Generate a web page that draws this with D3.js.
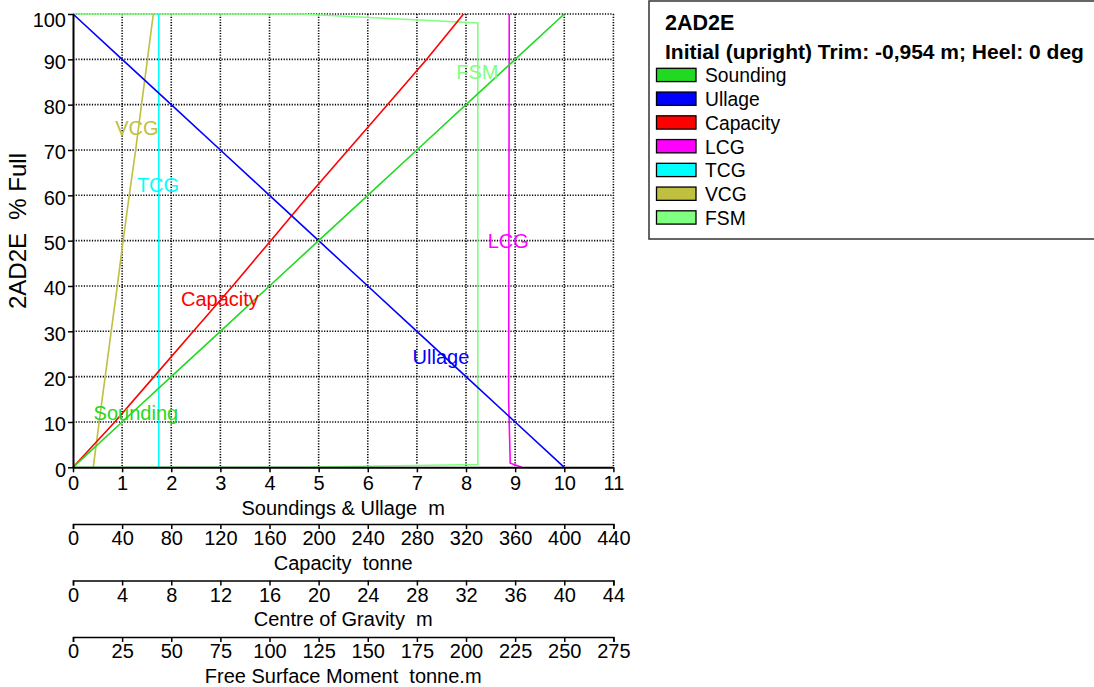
<!DOCTYPE html>
<html>
<head>
<meta charset="utf-8">
<script src="https://cdn.jsdelivr.net/npm/d3@7"></script>
<style>
  html, body { margin: 0; padding: 0; background: #fff; }
  svg { display: block; font-family: Arial, "Liberation Sans", sans-serif; }
  svg text { white-space: pre; }
</style>
</head>
<body>
<svg id="chart" width="1094" height="687"></svg>
<script>
// ---------------- DATA ----------------
const tankName = "2AD2E";
const subtitle = "Initial (upright) Trim: -0,954 m; Heel: 0 deg";
const seriesNames = ["Sounding", "Ullage", "Capacity", "LCG", "TCG", "VCG", "FSM"];
const seriesColors = ["#22d922", "#0000ff", "#ff0000", "#ff00ff", "#00ffff", "#bfbf40", "#80ff80"];

const pctFull = [0, 10, 20, 30, 40, 50, 60, 70, 80, 90, 100];
const soundingM = [0, 1, 2, 3, 4, 5, 6, 7, 8, 9, 10];
const ullageM = [10, 9, 8, 7, 6, 5, 4, 3, 2, 1, 0];
const capacityT = [0, 34, 66, 98, 130, 161, 192, 224, 256, 288, 318];
const vcgM = [1.65, 2.13, 2.62, 3.11, 3.61, 4.08, 4.58, 5.10, 5.58, 6.06, 6.54];

const tcgPct = [0, 100];
const tcgM = [6.98, 6.98];

const lcgPct = [0, 0.9, 15, 100];
const lcgM = [36.55, 35.6, 35.47, 35.52];

const fsmPct = [0, 0, 0.6, 98, 100, 100];
const fsmTm = [0, 115.5, 206, 206, 115.5, 0];

const yTicks = [0, 10, 20, 30, 40, 50, 60, 70, 80, 90, 100];
const soundTicks = [0, 1, 2, 3, 4, 5, 6, 7, 8, 9, 10, 11];
const capTicks = [0, 40, 80, 120, 160, 200, 240, 280, 320, 360, 400, 440];
const cogTicks = [0, 4, 8, 12, 16, 20, 24, 28, 32, 36, 40, 44];
const fsmTicks = [0, 25, 50, 75, 100, 125, 150, 175, 200, 225, 250, 275];

const yTitle = "2AD2E  % Full";
const axisTitles = ["Soundings & Ullage  m", "Capacity  tonne", "Centre of Gravity  m", "Free Surface Moment  tonne.m"];

// ---------------- LAYOUT ----------------
const L = 73, R = 613.4, T = 14, B = 467.3;
const FONT = "Arial, 'Liberation Sans', sans-serif";
const svg = d3.select("#chart");

const y = d3.scaleLinear().domain([0, 100]).range([B, T]);
const xS = d3.scaleLinear().domain([0, 11]).range([L, R]);
const xC = d3.scaleLinear().domain([0, 440]).range([L, R]);
const xG = d3.scaleLinear().domain([0, 44]).range([L, R]);
const xF = d3.scaleLinear().domain([0, 275]).range([L, R]);

// grid
const grid = svg.append("g");
grid.selectAll("line.v").data(soundTicks.slice(1)).join("line")
  .attr("x1", d => xS(d)).attr("x2", d => xS(d)).attr("y1", T).attr("y2", B)
  .attr("stroke", "#000").attr("stroke-width", 1.6).attr("stroke-dasharray", "1.2,1.5");
grid.selectAll("line.h").data(yTicks.slice(1)).join("line")
  .attr("y1", d => y(d)).attr("y2", d => y(d)).attr("x1", L).attr("x2", R)
  .attr("stroke", "#000").attr("stroke-width", 1.6).attr("stroke-dasharray", "1.2,1.5");

// series
const series = [
  { name: "Sounding", xs: xS, xv: soundingM, pv: pctFull },
  { name: "Ullage", xs: xS, xv: ullageM, pv: pctFull },
  { name: "Capacity", xs: xC, xv: capacityT, pv: pctFull },
  { name: "LCG", xs: xG, xv: lcgM, pv: lcgPct },
  { name: "TCG", xs: xG, xv: tcgM, pv: tcgPct },
  { name: "VCG", xs: xG, xv: vcgM, pv: pctFull },
  { name: "FSM", xs: xF, xv: fsmTm, pv: fsmPct }
];
const color = d3.scaleOrdinal().domain(seriesNames).range(seriesColors);

const drawOrder = ["FSM", "VCG", "TCG", "LCG", "Capacity", "Ullage", "Sounding"];
drawOrder.forEach(n => {
  const s = series.find(d => d.name === n);
  const pts = s.xv.map((v, i) => [s.xs(v), y(s.pv[i])]);
  svg.append("path")
    .attr("d", d3.line()(pts))
    .attr("fill", "none")
    .attr("stroke", color(n))
    .attr("stroke-width", 1.6);
});

// in-plot series labels (anchor in data units of the sounding axis / % full)
const labelAnchors = {
  VCG: [1.30, 74.8], TCG: [1.73, 62.3], Capacity: [2.99, 37.2],
  Sounding: [1.28, 12.0], Ullage: [7.49, 24.4], LCG: [8.86, 49.9], FSM: [8.23, 87.2]
};
Object.entries(labelAnchors).forEach(([n, p]) => {
  svg.append("text")
    .attr("x", xS(p[0])).attr("y", y(p[1]))
    .attr("dy", "0.36em")
    .attr("text-anchor", "middle")
    .attr("font-size", 20)
    .attr("fill", color(n))
    .text(n);
});

// y axis
const yAxis = svg.append("g").attr("transform", `translate(${L},0)`)
  .call(d3.axisLeft(y).tickValues(yTicks).tickSize(5).tickSizeOuter(0).tickPadding(2));
yAxis.select(".domain").attr("stroke-width", 2);
yAxis.selectAll(".tick line").attr("stroke-width", 1.5);
yAxis.selectAll(".tick text").attr("font-size", 20).attr("font-family", FONT)
  .attr("fill", "#000").attr("dy", d => d === 100 ? "0.62em" : "0.45em");

// main x axis
const xAxis = svg.append("g").attr("transform", `translate(0,${B})`)
  .call(d3.axisBottom(xS).tickValues(soundTicks).tickSize(5).tickSizeOuter(0).tickPadding(4));
xAxis.select(".domain").attr("stroke-width", 2);
xAxis.selectAll(".tick line").attr("stroke-width", 1.5);
xAxis.selectAll(".tick text").attr("font-size", 20).attr("font-family", FONT).attr("fill", "#000");

svg.append("text").attr("x", (L + R) / 2).attr("y", 514.5).attr("text-anchor", "middle")
  .attr("font-size", 20).text(axisTitles[0]);

// secondary axes
const secAxes = [
  { scale: xC, ticks: capTicks, yLine: 524, title: axisTitles[1] },
  { scale: xG, ticks: cogTicks, yLine: 580.5, title: axisTitles[2] },
  { scale: xF, ticks: fsmTicks, yLine: 637, title: axisTitles[3] }
];
secAxes.forEach(a => {
  const g = svg.append("g").attr("transform", `translate(0,${a.yLine})`)
    .call(d3.axisBottom(a.scale).tickValues(a.ticks).tickSize(5).tickSizeOuter(5).tickPadding(2));
  g.select(".domain").attr("stroke-width", 1.5);
  g.selectAll(".tick line").attr("stroke-width", 1.5);
  g.selectAll(".tick text").attr("font-size", 20).attr("font-family", FONT).attr("fill", "#000");
  svg.append("text").attr("x", (L + R) / 2).attr("y", a.yLine + 45.5).attr("text-anchor", "middle")
    .attr("font-size", 20).text(a.title);
});

// y title
svg.append("text")
  .attr("transform", `translate(26,231) rotate(-90)`)
  .attr("text-anchor", "middle")
  .attr("font-size", 24)
  .text(yTitle);

// legend
const lg = svg.append("g");
lg.append("rect").attr("x", 649).attr("y", 1).attr("width", 470).attr("height", 238)
  .attr("fill", "#fff").attr("stroke", "#333").attr("stroke-width", 1.5);
lg.append("text").attr("x", 665).attr("y", 29.5).attr("font-size", 21.5).attr("font-weight", "bold").text(tankName);
lg.append("text").attr("x", 665).attr("y", 58.5).attr("font-size", 21).attr("font-weight", "bold").text(subtitle);
seriesNames.forEach((n, i) => {
  const yy = 68.3 + i * 23.75;
  lg.append("rect").attr("x", 656.5).attr("y", yy).attr("width", 39.5).attr("height", 13.3)
    .attr("fill", color(n)).attr("stroke", "#000").attr("stroke-width", 1.3);
  lg.append("text").attr("x", 705).attr("y", yy + 14).attr("font-size", 19.3).text(n);
});
</script>
</body>
</html>
